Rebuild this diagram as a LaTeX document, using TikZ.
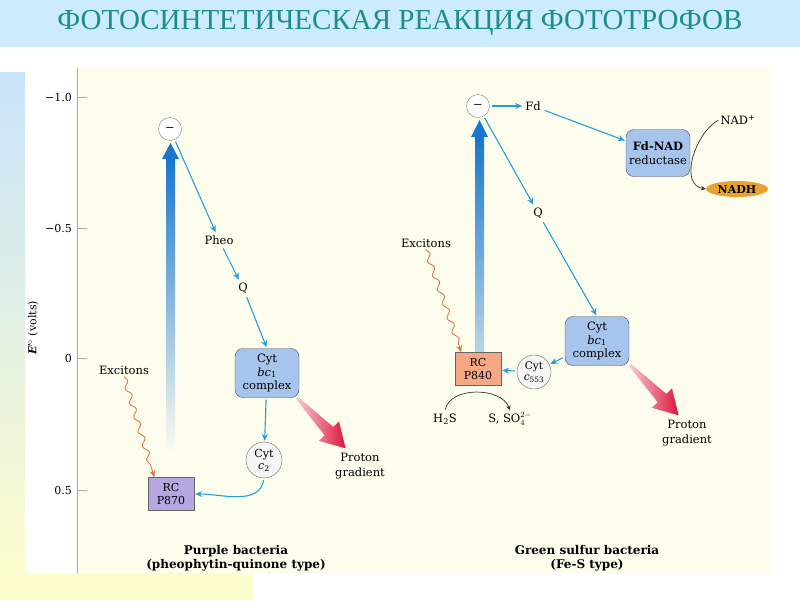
\documentclass[tikz,border=0pt]{standalone}
\usepackage{fontspec}
\setmainfont{DejaVu Serif}
\newfontfamily\titlefont{Liberation Serif}
\usetikzlibrary{arrows.meta,decorations.pathmorphing,shapes.geometric}

\definecolor{bandblue}{RGB}{204,236,254}
\definecolor{titleteal}{RGB}{28,140,140}
\definecolor{panelcream}{RGB}{253,253,238}
\definecolor{stripblue}{RGB}{200,228,250}
\definecolor{stripyellow}{RGB}{252,252,205}
\definecolor{axisgray}{RGB}{170,170,170}
\definecolor{flowblue}{RGB}{38,160,212}
\definecolor{bigblue}{RGB}{24,118,206}
\definecolor{cytblue}{RGB}{166,196,236}
\definecolor{rcpurple}{RGB}{182,166,226}
\definecolor{rcsalmon}{RGB}{246,168,134}
\definecolor{nadhorange}{RGB}{232,162,48}
\definecolor{excorange}{RGB}{226,120,80}
\definecolor{protred}{RGB}{222,20,60}
\definecolor{protpink}{RGB}{248,205,212}

\begin{document}
\begin{tikzpicture}[x=1pt,y=-1pt,
  every node/.style={font=\fontsize{11.5}{13.5}\selectfont},
  lbl/.style={inner sep=2pt, align=center},
  capt/.style={align=center, font=\bfseries\fontsize{12}{14}\selectfont},
  elec/.style={circle, draw=gray, fill=white, minimum size=23pt, inner sep=0pt},
  cytbox/.style={draw=black!70, fill=cytblue, rounded corners=8pt, minimum width=64pt,
    minimum height=49pt, align=center, inner sep=1pt, font=\fontsize{11.5}{13.5}\selectfont},
  cytcirc/.style={circle, draw=gray!80!black, fill=gray!8, minimum size=36pt, inner sep=0pt,
    align=center, font=\fontsize{11}{12}\selectfont},
  rcbox/.style={draw=black!60, minimum width=46pt, minimum height=33pt, align=center,
    inner sep=1pt, font=\fontsize{11}{13}\selectfont},
  flow/.style={draw=flowblue, line width=1.1pt, -{Stealth[length=7pt,width=6pt]},
    shorten <=2pt, shorten >=1pt},
  blk/.style={draw=black!80, line width=0.7pt, -{Stealth[length=5pt,width=4.5pt]}},
  exc/.style={draw=excorange, line width=0.9pt, -{Stealth[length=7pt,width=6pt]},
    decorate, decoration={snake, amplitude=2.5pt, segment length=15pt, post length=7pt}}
]
\useasboundingbox (0,0) rectangle (800,600);

% backgrounds
\fill[white] (0,0) rectangle (800,600);
\fill[bandblue] (0,0) rectangle (800,47);
\shade[top color=stripblue, bottom color=stripyellow] (0,72) rectangle (25,573);
\fill[stripyellow] (0,573) rectangle (253,600);
\fill[panelcream] (77,68) rectangle (770,573);
\node[text=titleteal, font=\titlefont\fontsize{29}{29}\selectfont] (title) at (400,23)
  {ФОТОСИНТЕТИЧЕСКАЯ РЕАКЦИЯ ФОТОТРОФОВ};

% energy axis
\draw[axisgray] (77,68) -- (77,573);
\foreach \yy/\vv [count=\i] in {97/{−1.0},228/{−0.5},358/0,490/0.5} {
  \draw[axisgray] (77,\yy) -- (87,\yy);
  \node[anchor=east, inner sep=0pt, font=\fontsize{11}{13}\selectfont] (tick\i) at (72,\yy) {\vv};
}
\node[rotate=90, font=\fontsize{11}{13}\selectfont] (elabel) at (33,328)
  {{\bfseries\itshape E}$'^{\circ}$ (volts)};

% purple bacteria
\shade[top color=bigblue, middle color=bigblue!60!panelcream, bottom color=panelcream]
  (166,158) rectangle (175,452);
\fill[bigblue] (162,159) -- (170.5,143) -- (179,159) -- cycle;
\node[elec] (eL) at (170,129) {−};
\node[lbl] (pheo) at (219,240) {Pheo};
\node[lbl] (qL) at (243,288) {Q};
\node[cytbox] (bcL) at (267,373) {Cyt\\\textit{bc}\textsubscript{1}\\complex};
\node[cytcirc] (cL) at (264,460) {Cyt\\\textit{c}\textsubscript{2}};
\node[rcbox, fill=rcpurple] (rcL) at (171,494) {RC\\P870};
\node[lbl] (excL) at (124,370) {Excitons};
\node[lbl, font=\fontsize{11.5}{15}\selectfont] (protL) at (360,466) {Proton\\gradient};
\node[capt] (capL) at (236,558) {Purple bacteria\\(pheophytin-quinone type)};
\draw[flow] (eL) -- (pheo);
\draw[flow] (pheo) -- (qL);
\draw[flow] (qL) -- (bcL.north);
\draw[flow] (bcL) -- (cL);
\draw[flow] (cL.south) to[out=-100, in=0] (rcL.east);
\draw[exc] (excL.south) -- (rcL.135);
\begin{scope}[shift={(297,398)}, rotate=-46]
\shade[left color=protpink, right color=protred]
  (0,-1.5) -- (46,-6) -- (46,-14) -- (70,0) -- (46,14) -- (46,6) -- (0,1.5) -- cycle;
\end{scope}

% green sulfur bacteria
\shade[top color=bigblue, middle color=bigblue!70!panelcream, bottom color=bigblue!30!panelcream]
  (475,136) rectangle (484,352);
\fill[bigblue] (471,137) -- (479.5,120) -- (488,137) -- cycle;
\node[elec] (eR) at (478,106) {−};
\node[lbl] (fd) at (533,106) {Fd};
\node[cytbox, minimum height=47pt] (fdnad) at (658,153)
  {\textbf{Fd-NAD}\\reductase};
\node[lbl] (nadp) at (738,120) {NAD\textsuperscript{+}};
\node[ellipse, fill=nadhorange, minimum width=62pt, minimum height=16pt, inner sep=0pt,
  font=\bfseries\fontsize{11}{13}\selectfont] (nadh) at (737,189) {NADH};
\node[lbl] (qR) at (538,213) {Q};
\node[cytbox] (bcR) at (597,341) {Cyt\\\textit{bc}\textsubscript{1}\\complex};
\node[cytcirc, minimum size=34pt, font=\fontsize{10.5}{11.5}\selectfont] (cR) at (534,372)
  {Cyt\\\textit{c}\textsubscript{553}};
\node[rcbox, fill=rcsalmon] (rcR) at (478,369) {RC\\P840};
\node[lbl] (excR) at (426,243) {Excitons};
\node[lbl] (h2s) at (445,419) {H\textsubscript{2}S};
\node[lbl] (sso) at (510,419) {S, SO$_4^{2-}$};
\node[lbl, font=\fontsize{11.5}{15}\selectfont] (protR) at (687,433) {Proton\\gradient};
\node[capt] (capR) at (587,558) {Green sulfur bacteria\\(Fe-S type)};
\draw[flow] (eR) -- (fd);
\draw[flow] (fd) -- (fdnad);
\draw[blk] (nadp.west) to[out=210, in=170] (nadh.west);
\draw[flow] (eR) -- (qR);
\draw[flow] (qR) -- (bcR.north);
\draw[flow] (bcR) -- (cR);
\draw[flow] (cR) -- (rcR);
\draw[exc] (excR.south) -- (rcR.135);
\draw[blk, shorten <=2pt] (h2s.north) to[out=80, in=110] (sso.north);
\begin{scope}[shift={(630,365)}, rotate=-46]
\shade[left color=protpink, right color=protred]
  (0,-1.5) -- (46,-6) -- (46,-14) -- (70,0) -- (46,14) -- (46,6) -- (0,1.5) -- cycle;
\end{scope}
\end{tikzpicture}
\end{document}
